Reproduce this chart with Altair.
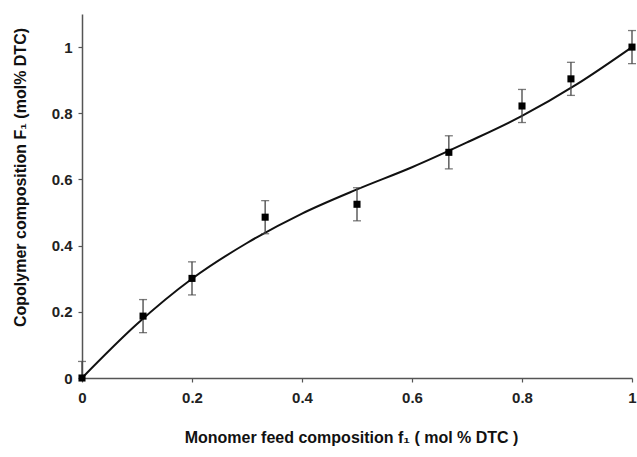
import altair as alt
import pandas as pd

# experimental points
f1 = [0.0, 0.111, 0.2, 0.333, 0.5, 0.667, 0.8, 0.889, 1.0]
F1 = [0.0, 0.187, 0.301, 0.486, 0.525, 0.682, 0.822, 0.904, 1.0]
err_lo = [0.0, 0.05, 0.05, 0.05, 0.05, 0.05, 0.05, 0.05, 0.05]
err_hi = [0.05, 0.05, 0.05, 0.05, 0.05, 0.05, 0.05, 0.05, 0.05]

# fitted curve
curve_x = [0.0, 0.1, 0.2, 0.3, 0.4, 0.5, 0.6, 0.7, 0.8, 0.9, 1.0]
curve_y = [0.0, 0.163, 0.300, 0.408, 0.497, 0.570, 0.637, 0.712, 0.792, 0.888, 1.0]

x_ticks = [0, 0.2, 0.4, 0.6, 0.8, 1]
y_ticks = [0, 0.2, 0.4, 0.6, 0.8, 1]

pts = pd.DataFrame({
    "f1": f1,
    "F1": F1,
    "lo": [v - e for v, e in zip(F1, err_lo)],
    "hi": [v + e for v, e in zip(F1, err_hi)],
})
crv = pd.DataFrame({"f1": curve_x, "F1": curve_y})

xs = alt.Scale(domain=[0, 1], nice=False, zero=False)
ys = alt.Scale(domain=[0, 1.1], nice=False, zero=False)

FONT = "Liberation Sans"

xaxis = alt.Axis(
    values=x_ticks, title="Monomer feed composition f\u2081 ( mol % DTC )",
    format="~g", labelFont=FONT, labelFontWeight="bold", labelFontSize=15,
    labelColor="#222", labelPadding=8, labelFlush=False, tickSize=4, tickColor="#555", tickWidth=1.2,
    domainColor="#555", domainWidth=1.5, titleFont=FONT, titleFontWeight="bold",
    titleFontSize=16, titleColor="#111", titlePadding=24, titleX=269, grid=False,
)
yaxis = alt.Axis(
    values=y_ticks, title="Copolymer composition F\u2081 (mol% DTC)",
    format="~g", labelFont=FONT, labelFontWeight="bold", labelFontSize=15,
    labelColor="#222", labelPadding=6, labelFlush=False, tickSize=4, tickColor="#555", tickWidth=1.2,
    domainColor="#555", domainWidth=1.5, titleFont=FONT, titleFontWeight="bold",
    titleFontSize=16, titleColor="#111", titleX=-54, titleY=163, grid=False,
)

base = alt.Chart(pts)

line = alt.Chart(crv).mark_line(color="#111", strokeWidth=2, interpolate="monotone").encode(
    x=alt.X("f1:Q", scale=xs, axis=xaxis),
    y=alt.Y("F1:Q", scale=ys, axis=yaxis),
)

bars = base.mark_rule(color="#444", strokeWidth=1.3).encode(
    x=alt.X("f1:Q", scale=xs),
    y=alt.Y("lo:Q", scale=ys),
    y2="hi:Q",
)
cap_lo = base.transform_filter("datum.lo < datum.F1").mark_tick(
    color="#444", thickness=1.3, size=8, orient="horizontal"
).encode(x=alt.X("f1:Q", scale=xs), y=alt.Y("lo:Q", scale=ys))
cap_hi = base.mark_tick(color="#444", thickness=1.3, size=8, orient="horizontal").encode(
    x=alt.X("f1:Q", scale=xs), y=alt.Y("hi:Q", scale=ys)
)
squares = base.mark_square(color="#000", size=50, opacity=1).encode(
    x=alt.X("f1:Q", scale=xs), y=alt.Y("F1:Q", scale=ys)
)

chart = alt.layer(line, bars, cap_lo, cap_hi, squares).properties(
    width=550, height=364, autosize="none",
    padding={"left": 82, "top": 14, "right": 5, "bottom": 79},
    background="white",
).configure_view(stroke=None)

chart.save("out.html", embed_options={"renderer": "svg", "actions": False})
